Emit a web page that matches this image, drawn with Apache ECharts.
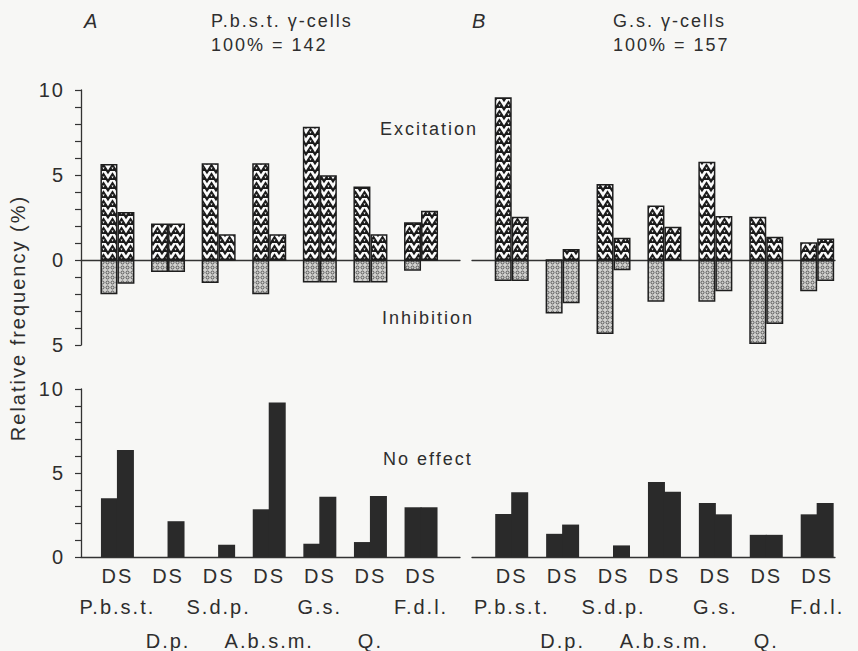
<!DOCTYPE html>
<html><head><meta charset="utf-8">
<script src="https://cdn.jsdelivr.net/npm/echarts@6/dist/echarts.min.js"></script>
<style>
html,body{margin:0;padding:0;background:#f7f7f5;}
#chart{width:858px;height:651px;}
#chart text{letter-spacing:2px;}
</style></head><body><div id="chart"></div>
<script>
// ---- data ----
const muscles = ['P.b.s.t.', 'D.p.', 'S.d.p.', 'A.b.s.m.', 'G.s.', 'Q.', 'F.d.l.'];
const pairLabel = 'DS';
const yTickLabelsTop = [10, 5, 0, -5];
const yTickLabelsBottom = [10, 5, 0];

// Panel A: P.b.s.t. gamma-cells, 100% = 142
const aExcD = [5.65, 2.14, 5.69, 5.69, 7.84, 4.33, 2.22];
const aExcS = [2.82, 2.14, 1.51, 1.51, 4.98, 1.51, 2.90];
const aInhD = [2.02, 0.71, 1.35, 2.02, 1.33, 1.33, 0.63];
const aInhS = [1.39, 0.71, 0, 0, 1.33, 1.33, 0];
const aNoD  = [3.49, 0, 0, 2.84, 0.79, 0.89, 2.96];
const aNoS  = [6.37, 2.13, 0.73, 9.19, 3.59, 3.63, 2.96];

// Panel B: G.s. gamma-cells, 100% = 157
const bExcD = [9.57, 0, 4.47, 3.20, 5.78, 2.55, 1.04];
const bExcS = [2.55, 0.65, 1.31, 1.96, 2.59, 1.37, 1.27];
const bInhD = [1.24, 3.14, 4.35, 2.45, 2.45, 4.94, 1.84];
const bInhS = [1.24, 2.55, 0.61, 0, 1.84, 3.76, 1.24];
const bNoD  = [2.56, 1.38, 0, 4.46, 3.21, 1.32, 2.54];
const bNoS  = [3.85, 1.93, 0.69, 3.89, 2.54, 1.32, 3.21];

// ---- styles ----
const FONT = '"Liberation Sans", Arial, Helvetica, sans-serif';
const TXT = '#2e2e2e';
const INK = '#1e1e1e';
const SOLID = '#2a2a2a';

function excTile() {
  const c = document.createElement('canvas');
  c.width = 9; c.height = 9;
  const g = c.getContext('2d');
  g.fillStyle = '#fbfbfb'; g.fillRect(0, 0, 9, 9);
  g.fillStyle = '#1a1a1a';
  g.beginPath(); g.moveTo(-0.5, 9); g.lineTo(9.5, 9); g.lineTo(4.5, 1.2); g.closePath(); g.fill();
  g.fillStyle = '#fbfbfb';
  g.beginPath(); g.moveTo(3.4, 5.6); g.lineTo(5.6, 5.6); g.lineTo(4.5, 7.6); g.closePath(); g.fill();
  g.fillStyle = '#1a1a1a';
  g.beginPath(); g.moveTo(0, 0); g.lineTo(2.2, 0); g.lineTo(0, 3.2); g.closePath(); g.fill();
  g.beginPath(); g.moveTo(9, 0); g.lineTo(6.8, 0); g.lineTo(9, 3.2); g.closePath(); g.fill();
  return c;
}
function inhTile() {
  const c = document.createElement('canvas');
  c.width = 5; c.height = 5;
  const g = c.getContext('2d');
  g.fillStyle = '#d2d2d0'; g.fillRect(0, 0, 5, 5);
  g.strokeStyle = '#4e4e4e'; g.lineWidth = 0.9;
  g.beginPath(); g.arc(2.5, 2.5, 1.5, 0, Math.PI * 2); g.stroke();
  return c;
}
const et = excTile(), it = inhTile();
const excFill = { image: et, repeat: 'repeat', imageWidth: 9, imageHeight: 9 };
const inhFill = { image: it, repeat: 'repeat', imageWidth: 5, imageHeight: 5 };

const BW = 17;
const idx = arr => arr.map((v, i) => [i, v]);
const neg = arr => arr.map((v, i) => [i, -v]);

function xLabel(v) {
  const i = Math.round(v);
  const name = muscles[i];
  return i % 2 === 0
    ? '{a|' + pairLabel + '}\n{b|' + name + '}\n{c| }'
    : '{a|' + pairLabel + '}\n{b| }\n{c|' + name + '}';
}
const richX = {
  a: { fontSize: 20, lineHeight: 30, color: TXT, fontFamily: FONT },
  b: { fontSize: 20, lineHeight: 32, color: TXT, fontFamily: FONT },
  c: { fontSize: 20, lineHeight: 36, color: TXT, fontFamily: FONT }
};

function makeX(grid, min, max, labels) {
  return {
    type: 'value', gridIndex: grid, min: min, max: max,
    splitLine: { show: false },
    axisTick: { show: false },
    axisLine: { show: true, onZero: true, lineStyle: { color: '#333', width: 1.3 } },
    axisLabel: labels ? {
      show: true, customValues: [0, 1, 2, 3, 4, 5, 6], margin: 4,
      formatter: xLabel, rich: richX, verticalAlign: 'top'
    } : { show: false }
  };
}
function makeY(grid, min, max, show, labelSet) {
  return {
    type: 'value', gridIndex: grid, min: min, max: max, interval: 1, show: show,
    splitLine: { show: false },
    axisLine: { show: true, onZero: false, lineStyle: { color: '#333', width: 1.3 } },
    axisTick: { show: true, inside: false, length: 6, lineStyle: { color: '#333', width: 1.2 } },
    axisLabel: {
      margin: 16, fontSize: 20, color: TXT, fontFamily: FONT,
      formatter: v => labelSet.indexOf(v) >= 0 ? String(Math.abs(v)) : ''
    }
  };
}

function barSeries(xi, stack, data, fill, border) {
  return {
    type: 'bar', xAxisIndex: xi, yAxisIndex: xi, stack: stack, data: data,
    barWidth: BW, barGap: border ? '0%' : '-6%', silent: true,
    itemStyle: border
      ? { color: fill, borderColor: INK, borderWidth: 1.5 }
      : { color: fill, borderWidth: 0 }
  };
}

const chart = echarts.init(document.getElementById('chart'), null, { renderer: 'svg' });
chart.setOption({
  backgroundColor: '#f7f7f5',
  animation: false,
  grid: [
    { left: 81, top: 90, width: 379, height: 255 },
    { left: 472, top: 90, width: 363, height: 255 },
    { left: 81, top: 389, width: 379, height: 169 },
    { left: 472, top: 389, width: 363, height: 169 }
  ],
  xAxis: [
    makeX(0, -0.72, 6.77, false),
    makeX(1, -0.78, 6.35, false),
    makeX(2, -0.72, 6.77, true),
    makeX(3, -0.78, 6.35, true)
  ],
  yAxis: [
    makeY(0, -5, 10, true, yTickLabelsTop),
    makeY(1, -5, 10, false, yTickLabelsTop),
    makeY(2, 0, 10, true, yTickLabelsBottom),
    makeY(3, 0, 10, false, yTickLabelsBottom)
  ],
  series: [
    barSeries(0, 'aD', idx(aExcD), excFill, true),
    barSeries(0, 'aS', idx(aExcS), excFill, true),
    barSeries(0, 'aD', neg(aInhD), inhFill, true),
    barSeries(0, 'aS', neg(aInhS), inhFill, true),
    barSeries(1, 'bD', idx(bExcD), excFill, true),
    barSeries(1, 'bS', idx(bExcS), excFill, true),
    barSeries(1, 'bD', neg(bInhD), inhFill, true),
    barSeries(1, 'bS', neg(bInhS), inhFill, true),
    barSeries(2, 'cD', idx(aNoD), SOLID, false),
    barSeries(2, 'cS', idx(aNoS), SOLID, false),
    barSeries(3, 'dD', idx(bNoD), SOLID, false),
    barSeries(3, 'dS', idx(bNoS), SOLID, false)
  ],
  graphic: [
    { type: 'text', x: 84, y: 21, style: { text: 'A', font: 'italic 20px ' + FONT, fill: TXT, textVerticalAlign: 'middle' } },
    { type: 'text', x: 211, y: 21, style: { text: 'P.b.s.t. γ-cells', font: '18px ' + FONT, fill: TXT, textVerticalAlign: 'middle' } },
    { type: 'text', x: 211, y: 45, style: { text: '100% = 142', font: '18px ' + FONT, fill: TXT, textVerticalAlign: 'middle' } },
    { type: 'text', x: 472, y: 21, style: { text: 'B', font: 'italic 20px ' + FONT, fill: TXT, textVerticalAlign: 'middle' } },
    { type: 'text', x: 613, y: 21, style: { text: 'G.s. γ-cells', font: '18px ' + FONT, fill: TXT, textVerticalAlign: 'middle' } },
    { type: 'text', x: 613, y: 45, style: { text: '100% = 157', font: '18px ' + FONT, fill: TXT, textVerticalAlign: 'middle' } },
    { type: 'text', x: 380, y: 129, style: { text: 'Excitation', font: '18px ' + FONT, fill: TXT, textVerticalAlign: 'middle' } },
    { type: 'text', x: 382, y: 318, style: { text: 'Inhibition', font: '18px ' + FONT, fill: TXT, textVerticalAlign: 'middle' } },
    { type: 'text', x: 383, y: 459, style: { text: 'No effect', font: '18px ' + FONT, fill: TXT, textVerticalAlign: 'middle' } },
    { type: 'text', x: 18, y: 318, rotation: Math.PI / 2, style: { text: 'Relative frequency (%)', font: '20px ' + FONT, fill: TXT, textAlign: 'center', textVerticalAlign: 'middle' } }
  ]
});
</script></body></html>
